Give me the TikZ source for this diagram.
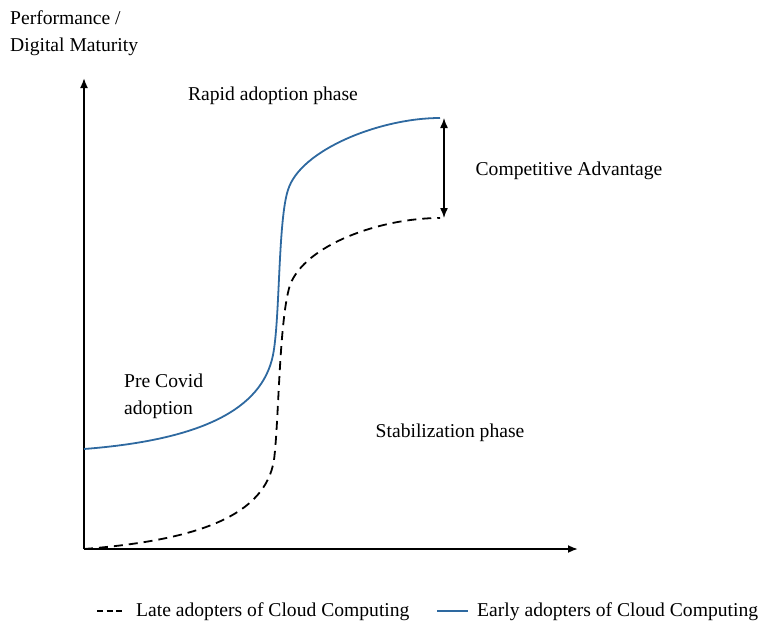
\documentclass[tikz,border=0pt]{standalone}
\usepackage{fontspec}
\setmainfont{Liberation Serif}
\usetikzlibrary{arrows.meta}
\definecolor{early}{RGB}{46,105,160}
\begin{document}
\begin{tikzpicture}[x=1pt,y=-1pt,
  lbl/.style={font=\fontsize{19.6}{27}\selectfont, inner sep=0pt},
  axis/.style={line width=1.8pt,-{Latex[length=10pt,width=8pt]}},
  earlyline/.style={draw=early,line width=1.8pt},
  lateline/.style={draw=black,line width=1.8pt,dash pattern=on 9pt off 6pt},
  gap/.style={line width=1.4pt,{Latex[length=10pt,width=8pt]}-{Latex[length=10pt,width=8pt]}}]
\useasboundingbox (0,0) rectangle (762,626);
% axes
\coordinate (o) at (84,549);
\coordinate (ytop) at (84,78);
\coordinate (xend) at (578,549);
\draw[axis] (o) -- (ytop);
\draw[axis] (o) -- (xend);
% curves
\coordinate (e0) at (84,449);
\coordinate (e3) at (440,118);
\coordinate (l0) at (84,549);
\coordinate (l3) at (440,218);
\draw[earlyline] (e0) .. controls (200,440) and (262,410) .. (273,355)
  .. controls (280,320) and (278,220) .. (288,190)
  .. controls (300,150) and (380,118) .. (e3);
\draw[lateline] (l0) .. controls (200,540) and (265,515) .. (274,460)
  .. controls (279,420) and (279,320) .. (290,285)
  .. controls (305,245) and (380,218) .. (l3);
% competitive advantage arrow
\coordinate (atop) at (444,118);
\coordinate (abot) at (444,218);
\draw[gap] (atop) -- (abot);
% labels
\node[lbl,anchor=west,align=left] (ylab) at (10,33) {Performance /\\Digital Maturity};
\node[lbl] (rapid) at (273,96) {Rapid adoption phase};
\node[lbl] (comp) at (569,171) {Competitive Advantage};
\node[lbl,anchor=west,align=left] (pre) at (124,396) {Pre Covid\\adoption};
\node[lbl] (stab) at (450,433) {Stabilization phase};
% legend
\coordinate (ld0) at (97,611);
\coordinate (ld1) at (122,611);
\draw[black,line width=1.6pt,dash pattern=on 6pt off 3.5pt] (ld0) -- (ld1);
\node[lbl,anchor=west] (late) at (136,612) {Late adopters of Cloud Computing};
\coordinate (le0) at (437,611);
\coordinate (le1) at (468,611);
\draw[early,line width=1.6pt] (le0) -- (le1);
\node[lbl,anchor=west] (earlyl) at (477,612) {Early adopters of Cloud Computing};
\end{tikzpicture}
\end{document}
